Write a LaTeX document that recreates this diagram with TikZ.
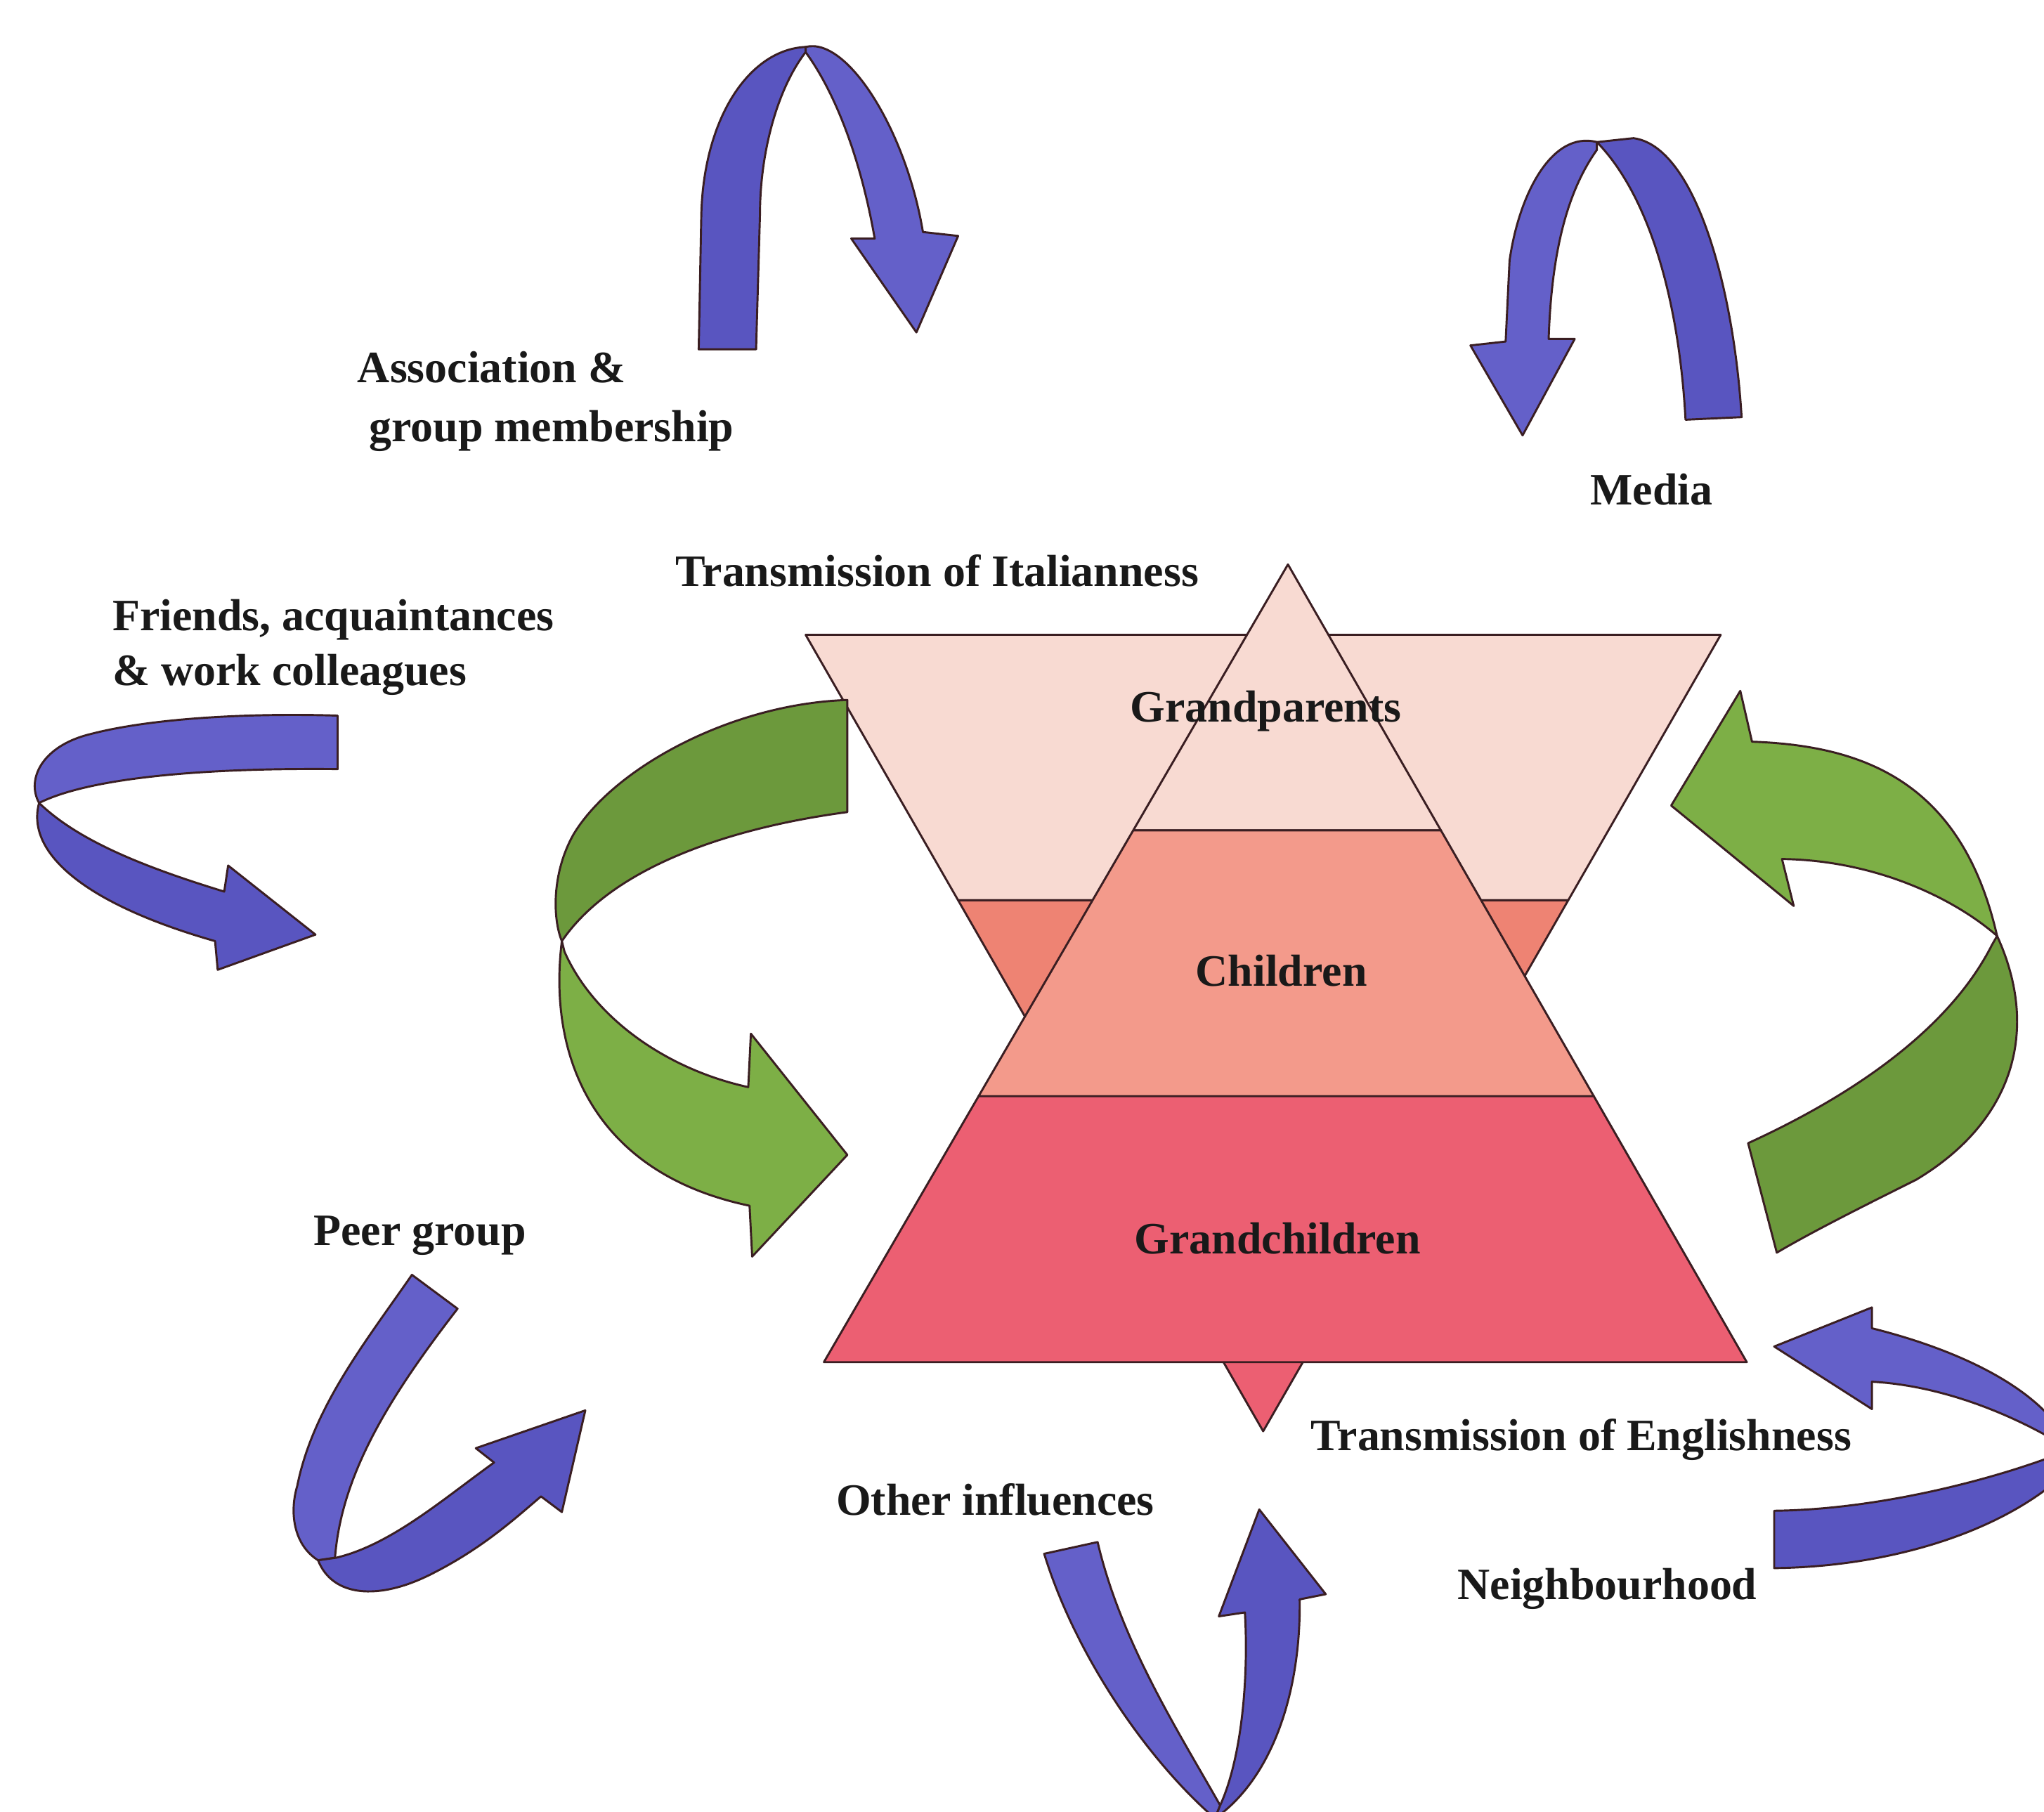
\documentclass[tikz,border=0pt]{standalone}
\usepackage{fontspec}
\setmainfont{Liberation Serif}
\usetikzlibrary{calc}
\definecolor{pinkA}{HTML}{F8DAD2}
\definecolor{pinkB}{HTML}{F39A8B}
\definecolor{pinkBi}{HTML}{EE8373}
\definecolor{pinkC}{HTML}{EC5F72}
\definecolor{blueF}{HTML}{6460C9}
\definecolor{blueB}{HTML}{5955C0}
\definecolor{greenL}{HTML}{7DAF46}
\definecolor{greenD}{HTML}{6C993C}
\definecolor{edge}{HTML}{3A1E22}

\begin{document}
\begin{tikzpicture}[x=0.02cm,y=-0.02cm,line join=round,
  band/.style={draw=edge,line width=0.9pt},
  blu/.style={fill=blueF,draw=edge,line width=0.9pt},
  blud/.style={blu,fill=blueB},
  grl/.style={fill=greenL,draw=edge,line width=0.9pt},
  grd/.style={grl,fill=greenD},
  lab/.style={font=\fontsize{19.6}{24}\selectfont\bfseries,text=black!90,inner sep=0pt,anchor=base}]
  \useasboundingbox (0,0) rectangle (1568,1390);
  \clip (0,0) rectangle (1568,1390);
  % Italianness (down) and Englishness (up), three bands each
  \coordinate (i1) at (618,487); \coordinate (i2) at (1320,487); \coordinate (i0) at (969,1098);
  \coordinate (e0) at (988,433); \coordinate (e1) at (632,1045); \coordinate (e2) at (1340,1045);
  \foreach \t in {1,2} {
    \coordinate (il\t) at ($(i1)!\t/3!(i0)$); \coordinate (ir\t) at ($(i2)!\t/3!(i0)$);
    \coordinate (el\t) at ($(e0)!\t/3!(e1)$); \coordinate (er\t) at ($(e0)!\t/3!(e2)$); }
  \draw[band,fill=pinkA] (i1) -- (i2) -- (ir1) -- (il1) -- cycle;
  \draw[band,fill=pinkBi] (il1) -- (ir1) -- (ir2) -- (il2) -- cycle;
  \draw[band,fill=pinkC] (il2) -- (ir2) -- (i0) -- cycle;
  \draw[band,fill=pinkA] (e0) -- (er1) -- (el1) -- cycle;
  \draw[band,fill=pinkB] (el1) -- (er1) -- (er2) -- (el2) -- cycle;
  \draw[band,fill=pinkC] (el2) -- (er2) -- (e2) -- (e1) -- cycle;
  % green ribbons
  \draw[grd] (650,537) -- (650,623) .. controls (560,635) and (470,665) .. (431,722)
    .. controls (424,705) and (423,670) .. (440,640) .. controls (470,590) and (560,540) .. (650,537) -- cycle;
  \draw[grl] (431,722) .. controls (420,810) and (455,900) .. (575,925) -- (577,964) -- (650,886) -- (576,793)
    -- (574,834) .. controls (510,820) and (455,780) .. (433,730) -- cycle;
  \draw[grl] (1282,618) -- (1335,530) -- (1344,569) .. controls (1430,572) and (1505,600) .. (1532,718)
    .. controls (1500,690) and (1440,660) .. (1367,659) -- (1376,695) -- cycle;
  \draw[grd] (1532,718) .. controls (1565,790) and (1545,860) .. (1470,905) .. controls (1430,925) and (1390,945) .. (1363,961)
    -- (1341,877) .. controls (1400,850) and (1490,800) .. (1528,725) -- cycle;
  % blue ribbons
  \draw[blud] (536,268) -- (538,164) .. controls (540,90) and (575,38) .. (618,36) -- (618,40)
    .. controls (595,70) and (583,120) .. (583,164) -- (580,268) -- cycle;
  \draw[blu] (618,36) .. controls (650,28) and (695,100) .. (708,178) -- (735,181) -- (703,255) -- (653,183)
    -- (671,183) .. controls (660,120) and (640,70) .. (618,40) -- cycle;
  \draw[blud] (1293,322) -- (1336,320) .. controls (1330,220) and (1300,112) .. (1253,106) -- (1225,109)
    .. controls (1265,150) and (1288,230) .. (1293,322) -- cycle;
  \draw[blu] (1225,109) .. controls (1190,100) and (1165,150) .. (1158,200) -- (1155,262) -- (1128,265) -- (1168,334)
    -- (1208,260) -- (1188,260) .. controls (1190,200) and (1200,150) .. (1225,115) -- cycle;
  \draw[blu] (259,549) -- (259,590) .. controls (160,589) and (70,596) .. (30,616)
    .. controls (20,598) and (32,572) .. (70,563) .. controls (120,550) and (200,547) .. (259,549) -- cycle;
  \draw[blud] (30,616) .. controls (20,652) and (60,692) .. (165,722) -- (167,744) -- (242,717) -- (175,664)
    -- (172,684) .. controls (110,665) and (60,645) .. (30,616) -- cycle;
  \draw[blu] (316,978) -- (351,1004) .. controls (300,1070) and (262,1130) .. (257,1195) -- (244,1197)
    .. controls (225,1185) and (222,1160) .. (228,1140) .. controls (240,1080) and (280,1030) .. (316,978) -- cycle;
  \draw[blud] (244,1197) .. controls (255,1225) and (290,1228) .. (330,1208) .. controls (370,1188) and (395,1165) .. (415,1148)
    -- (431,1160) -- (449,1082) -- (365,1111) -- (379,1122) .. controls (340,1150) and (300,1185) .. (258,1195) -- cycle;
  \draw[blu] (801,1192) -- (842,1183) .. controls (860,1260) and (905,1330) .. (936,1385) -- (932,1395)
    .. controls (880,1350) and (825,1270) .. (801,1192) -- cycle;
  \draw[blud] (932,1395) .. controls (975,1365) and (998,1300) .. (997,1227) -- (1017,1223) -- (966,1158) -- (935,1240)
    -- (955,1237) .. controls (958,1290) and (952,1350) .. (936,1385) -- cycle;
  \draw[blud] (1361,1159) -- (1361,1203) .. controls (1450,1202) and (1540,1175) .. (1590,1125) -- (1588,1112)
    .. controls (1545,1130) and (1450,1158) .. (1361,1159) -- cycle;
  \draw[blu] (1588,1112) .. controls (1575,1075) and (1520,1040) .. (1436,1019) -- (1436,1003) -- (1361,1033) -- (1436,1081)
    -- (1436,1060) .. controls (1490,1063) and (1545,1085) .. (1588,1112) -- cycle;
  % labels (two-line ones sit on their last line)
  \node[lab,anchor=base west,align=left] (assoc) at (274,339) {Association \&\\[1.8pt]\hspace*{0.18cm}group membership};
  \node[lab] (media) at (1267,387.5) {Media};
  \node[lab] (ital) at (719,450) {Transmission of Italianness};
  \node[lab,anchor=base west,align=left] (friends) at (86,526) {Friends, acquaintances\\\& work colleagues};
  \node[lab] (gp) at (971,553.6) {Grandparents};
  \node[lab] (ch) at (983,756.7) {Children};
  \node[lab] (gc) at (980,961.6) {Grandchildren};
  \node[lab] (peer) at (322,955.6) {Peer group};
  \node[lab] (engl) at (1213,1112.6) {Transmission of Englishness};
  \node[lab] (other) at (763.5,1162.4) {Other influences};
  \node[lab] (neigh) at (1233,1227.3) {Neighbourhood};
\end{tikzpicture}
\end{document}
